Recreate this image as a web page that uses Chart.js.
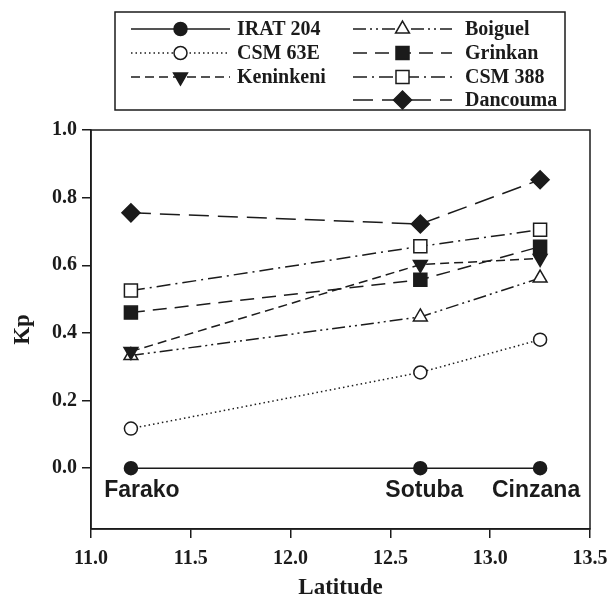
<!DOCTYPE html>
<html>
<head>
<meta charset="utf-8">
<script src="https://cdn.jsdelivr.net/npm/chart.js@4/dist/chart.umd.min.js"></script>
<style>
  html, body { margin: 0; padding: 0; background: #fff; }
  #wrap { width: 608px; height: 597px; }
</style>
</head>
<body>
<div id="wrap"><canvas id="kp" width="608" height="597"></canvas></div>
<script>
// dados (Kp por latitude)
const latitudes = [11.2, 12.65, 13.25];
const sites = ["Farako", "Sotuba", "Cinzana"];
const irat204 = [0, 0, 0];
const csm63e = [0.117, 0.283, 0.38];
const keninkeni = [0.345, 0.602, 0.62];
const boiguel = [0.333, 0.447, 0.562];
const grinkan = [0.46, 0.557, 0.655];
const csm388 = [0.525, 0.656, 0.705];
const dancouma = [0.755, 0.722, 0.853];
const xTicks = [11.0, 11.5, 12.0, 12.5, 13.0, 13.5];
const yTicks = [0.0, 0.2, 0.4, 0.6, 0.8, 1.0];

const INK = "#1b1b1b";
const pts = vals => vals.map((v, i) => ({ x: latitudes[i], y: v }));

const serie = (label, vals, dash, style, fill, radius, rot) => ({
  label,
  data: pts(vals),
  borderColor: INK,
  borderWidth: 1.5,
  borderDash: dash,
  pointStyle: style,
  pointRotation: rot || 0,
  pointRadius: radius,
  pointBackgroundColor: fill,
  pointBorderColor: INK,
  pointBorderWidth: 1.5,
  fill: false,
  tension: 0
});

const datasets = [
  serie("IRAT 204", irat204, [], "circle", INK, 6.5),
  serie("CSM 63E", csm63e, [1.5, 3], "circle", "#fff", 6.5),
  serie("Keninkeni", keninkeni, [9, 5], "triangle", INK, 8, 180),
  serie("Boiguel", boiguel, [13, 4, 2, 4, 2, 4], "triangle", "#fff", 8),
  serie("Grinkan", grinkan, [14, 8], "rect", INK, 9.2),
  serie("CSM 388", csm388, [14, 5, 2, 5], "rect", "#fff", 9.2),
  serie("Dancouma", dancouma, [20, 9], "rectRot", INK, 9)
];

// moldura + nomes dos locais + legenda em duas colunas
const extras = {
  id: "extras",
  beforeDatasetsDraw(chart) {
    const { ctx, chartArea: a } = chart;
    ctx.save();
    ctx.strokeStyle = INK;
    ctx.lineWidth = 1.5;
    ctx.strokeRect(a.left, a.top, a.right - a.left, a.bottom - a.top);
    ctx.restore();
  },
  afterDraw(chart) {
    const { ctx, scales } = chart;
    ctx.save();
    // nomes dos locais
    const offs = [11, 4, -4];
    ctx.fillStyle = INK;
    ctx.font = "bold 23px 'Liberation Sans', Arial, sans-serif";
    ctx.textAlign = "center";
    ctx.textBaseline = "alphabetic";
    sites.forEach((s, i) => {
      ctx.fillText(s, scales.x.getPixelForValue(latitudes[i]) + offs[i], scales.y.getPixelForValue(0) + 28.5);
    });

    // legenda
    ctx.lineWidth = 1.5;
    ctx.strokeStyle = INK;
    ctx.strokeRect(115, 12, 450, 98);
    const cols = [{ x1: 131, x2: 230, tx: 237 }, { x1: 353, x2: 452, tx: 465 }];
    const rowY = [29, 53, 77, 100];
    ctx.font = "bold 20px 'Liberation Serif', 'Times New Roman', serif";
    ctx.textAlign = "left";
    ctx.textBaseline = "middle";
    chart.data.datasets.forEach((ds, i) => {
      const c = i < 3 ? cols[0] : cols[1];
      const y = rowY[i < 3 ? i : i - 3];
      ctx.setLineDash(ds.borderDash);
      ctx.beginPath();
      ctx.moveTo(c.x1, y);
      ctx.lineTo(c.x2, y);
      ctx.stroke();
      ctx.setLineDash([]);
      ctx.fillStyle = ds.pointBackgroundColor;
      Chart.helpers.drawPoint(ctx, {
        pointStyle: ds.pointStyle,
        rotation: ds.pointRotation,
        radius: ds.pointRadius,
        borderWidth: 1.5
      }, (c.x1 + c.x2) / 2, y);
      ctx.fillStyle = INK;
      ctx.fillText(ds.label, c.tx, y + 1);
    });
    ctx.restore();
  }
};

const tickFont = { family: "'Liberation Serif', 'Times New Roman', serif", size: 20, weight: "bold" };
const titleFont = { family: "'Liberation Serif', 'Times New Roman', serif", size: 23, weight: "bold", lineHeight: 1 };

new Chart(document.getElementById("kp"), {
  type: "line",
  data: { datasets },
  options: {
    responsive: false,
    animation: false,
    layout: { padding: { top: 130, right: 0, left: 0, bottom: 0 } },
    plugins: { legend: { display: false }, tooltip: { enabled: false } },
    scales: {
      x: {
        type: "linear",
        min: 11.0,
        max: 13.5,
        afterBuildTicks: s => { s.ticks = xTicks.map(v => ({ value: v })); },
        afterFit: s => { s.height = 68; s.paddingRight = 18; },
        ticks: { color: INK, font: tickFont, padding: 9, maxRotation: 0, callback: v => v.toFixed(1) },
        grid: { drawOnChartArea: false, drawTicks: true, tickLength: 9, color: INK, lineWidth: 1.5 },
        border: { display: true, color: INK, width: 1.5 },
        title: { display: true, text: "Latitude", color: INK, font: titleFont, padding: { top: 0, bottom: -3 } }
      },
      y: {
        min: -0.18,
        max: 1.0,
        afterBuildTicks: s => { s.ticks = yTicks.map(v => ({ value: v })); },
        afterFit: s => { s.width = 91; },
        ticks: { color: INK, font: tickFont, padding: 5, callback: v => v.toFixed(1) },
        grid: { drawOnChartArea: false, drawTicks: true, tickLength: 9, color: INK, lineWidth: 1.5 },
        border: { display: true, color: INK, width: 1.5 },
        title: { display: true, text: "Kp", color: INK, font: titleFont, padding: { top: 12, bottom: 0 } }
      }
    }
  },
  plugins: [extras]
});
</script>
</body>
</html>
